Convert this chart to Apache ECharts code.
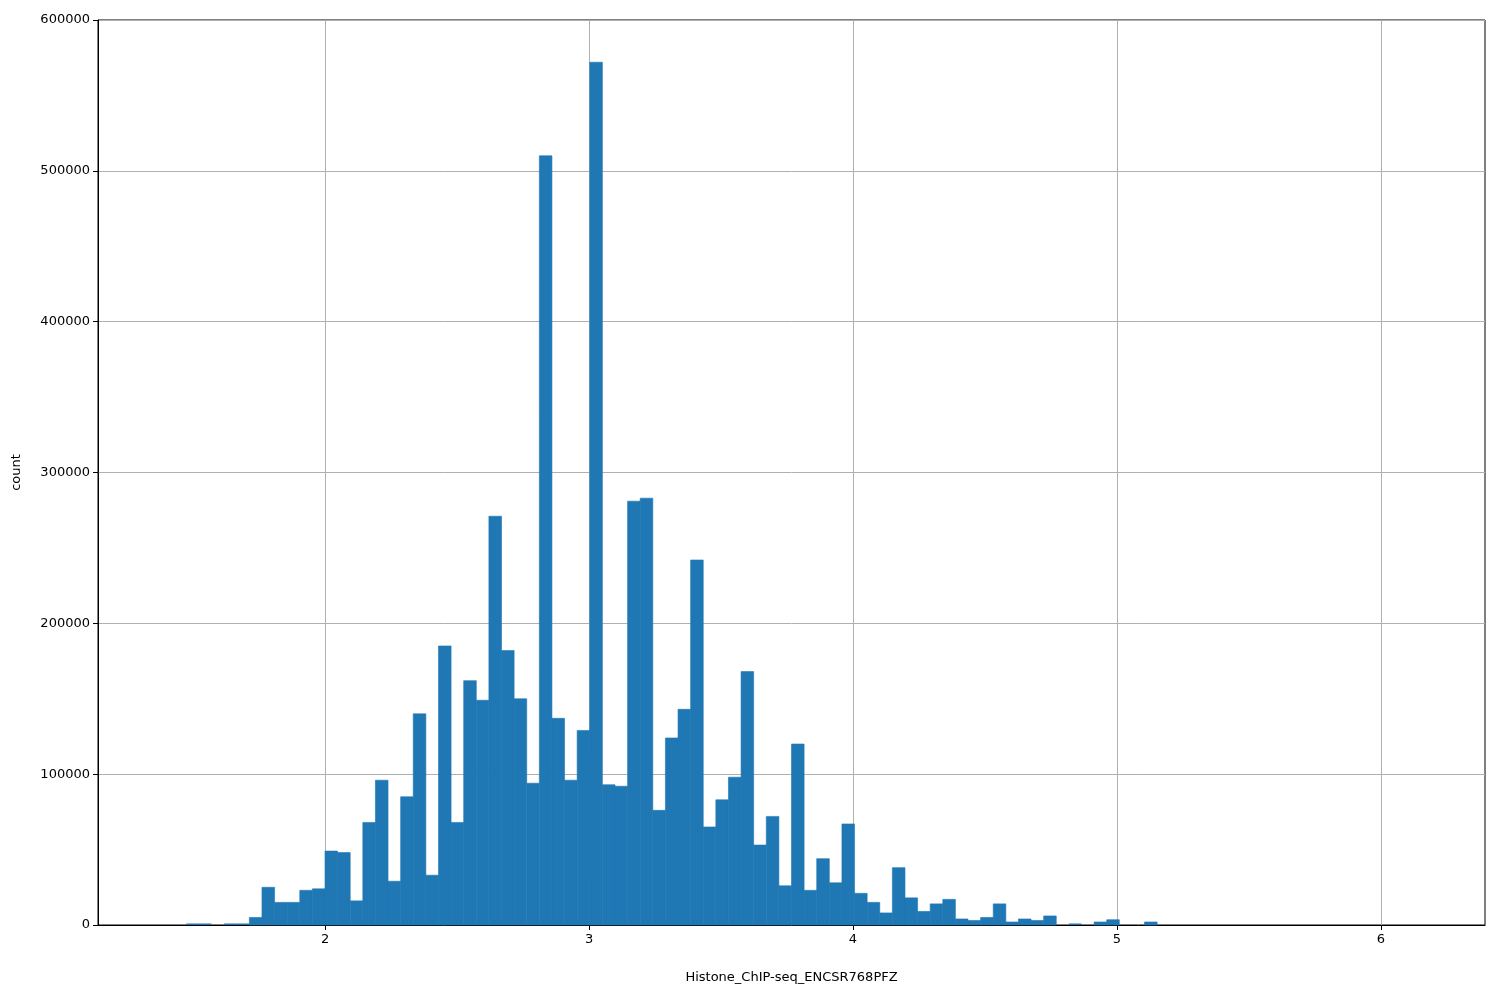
<!DOCTYPE html>
<html>
<head>
<meta charset="utf-8">
<script src="https://cdn.jsdelivr.net/npm/echarts@6/dist/echarts.min.js"></script>
<style>html,body{margin:0;padding:0;background:#fff}#chart{width:1500px;height:1000px}</style>
</head>
<body>
<div id="chart"></div>
<script>
// histogram: 100 bins from binStart, width binWidth
var binStart = 1.379;
var binWidth = 0.04776;
var counts = [
  100, 0, 1000, 1000, 0, 1000, 1000, 5000, 25000, 15000,
  15000, 23000, 24000, 49000, 48000, 16000, 68000, 96000, 29000, 85000,
  140000, 33000, 185000, 68000, 162000, 149000, 271000, 182000, 150000, 94000,
  510000, 137000, 96000, 129000, 572000, 93000, 92000, 281000, 283000, 76000,
  124000, 143000, 242000, 65000, 83000, 98000, 168000, 53000, 72000, 26000,
  120000, 23000, 44000, 28000, 67000, 21000, 15000, 8000, 38000, 18000,
  9000, 14000, 17000, 4000, 3000, 5000, 14000, 2000, 4000, 3000,
  6000, 0, 1000, 0, 2000, 3500, 0, 0, 2000, 0,
  0, 0, 0, 0, 0, 0, 0, 0, 0, 0,
  0, 0, 0, 0, 0, 0, 0, 0, 0, 100
];
var xTicks = [2, 3, 4, 5, 6];

var bins = counts.map(function (c, i) {
  return [binStart + i * binWidth, binStart + (i + 1) * binWidth, c];
});

var chart = echarts.init(document.getElementById('chart'));
chart.setOption({
  animation: false,
  grid: {left: 98, right: 15, top: 20, bottom: 75, show: true, borderColor: '#000', borderWidth: 1},
  xAxis: {
    type: 'value', min: 1.140, max: 6.394,
    name: 'Histone_ChIP-seq_ENCSR768PFZ', nameLocation: 'middle', nameGap: 46,
    nameTextStyle: {color: '#000', fontSize: 13, fontFamily: 'DejaVu Sans'},
    axisLine: {lineStyle: {color: '#000'}},
    axisTick: {show: true, length: 5, customValues: xTicks, lineStyle: {color: '#000'}},
    axisLabel: {customValues: xTicks, color: '#000', fontSize: 13, fontFamily: 'DejaVu Sans', margin: 8},
    splitLine: {show: true, lineStyle: {color: '#b0b0b0', width: 1}}
  },
  yAxis: {
    type: 'value', min: 0, max: 600000, interval: 100000,
    name: 'count', nameLocation: 'middle', nameGap: 75,
    nameTextStyle: {color: '#000', fontSize: 13, fontFamily: 'DejaVu Sans'},
    axisLine: {show: true, lineStyle: {color: '#000'}},
    axisTick: {show: true, length: 5, lineStyle: {color: '#000'}},
    axisLabel: {color: '#000', fontSize: 13, fontFamily: 'DejaVu Sans', margin: 8,
      formatter: function (v) { return String(v); }},
    splitLine: {show: true, lineStyle: {color: '#b0b0b0', width: 1}}
  },
  series: [{
    type: 'custom',
    data: bins,
    encode: {x: [0, 1], y: 2},
    renderItem: function (params, api) {
      if (!(api.value(2) > 0)) return null;
      var p0 = api.coord([api.value(0), api.value(2)]);
      var p1 = api.coord([api.value(1), 0]);
      var w = p1[0] - p0[0], h = p1[1] - p0[1];
      return {
        type: 'rect',
        shape: {x: p0[0], y: p0[1], width: w, height: h},
        style: {fill: '#1f77b4', stroke: h > 2 ? '#1f77b4' : null, lineWidth: 0.6}
      };
    }
  }]
});
</script>
</body>
</html>
